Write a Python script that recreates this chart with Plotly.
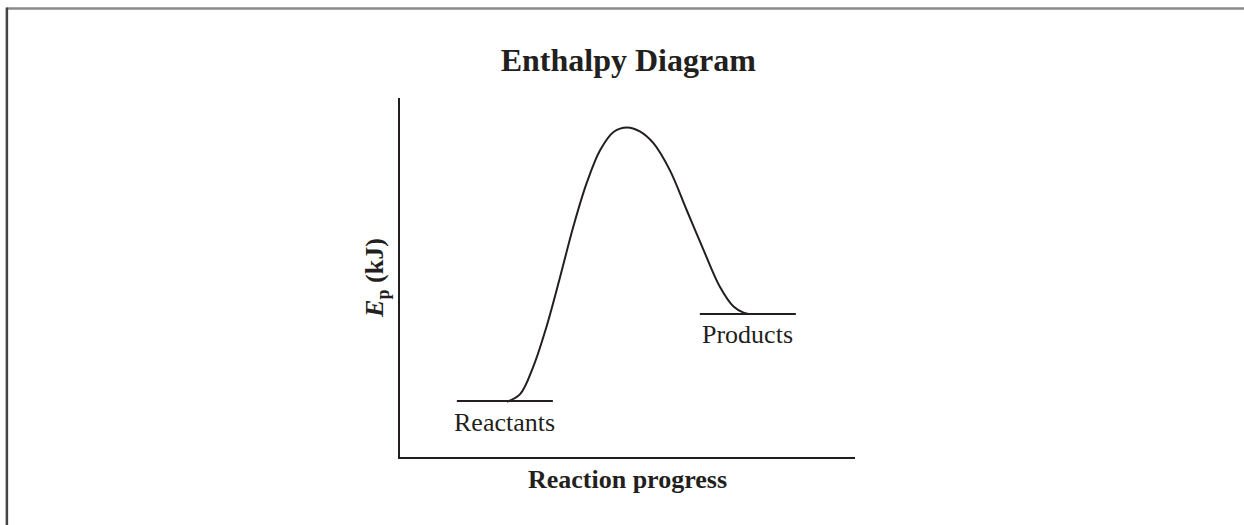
import plotly.graph_objects as go

# Data (arbitrary units: reaction progress 0-10, energy 0-10)
curve_x = [2.35, 2.64, 2.93, 3.22, 3.52, 3.81, 4.10, 4.40, 4.70, 4.99, 5.27, 5.57, 5.93, 6.30, 6.67, 7.03, 7.33, 7.55, 7.69]
curve_y = [1.54, 1.75, 2.52, 3.63, 5.02, 6.42, 7.62, 8.55, 9.06, 9.18, 9.07, 8.74, 7.99, 6.88, 5.77, 4.74, 4.19, 4.02, 3.98]
reactants_x = [1.25, 3.36]
reactants_y = [1.56, 1.56]
products_x = [6.59, 8.70]
products_y = [3.98, 3.98]
level_labels = ["Reactants", "Products"]

INK = "#231f20"
FONT = "Liberation Serif, Times New Roman, serif"

fig = go.Figure()
fig.add_trace(go.Scatter(x=curve_x, y=curve_y, mode="lines",
                         line=dict(color=INK, width=2, shape="spline", smoothing=1.0),
                         hoverinfo="skip", showlegend=False))
fig.add_trace(go.Scatter(x=reactants_x, y=reactants_y, mode="lines",
                         line=dict(color=INK, width=2), hoverinfo="skip", showlegend=False))
fig.add_trace(go.Scatter(x=products_x, y=products_y, mode="lines",
                         line=dict(color=INK, width=2), hoverinfo="skip", showlegend=False))

for name, xs, ys, shift in [(level_labels[0], reactants_x, reactants_y, -21),
                            (level_labels[1], products_x, products_y, -20)]:
    fig.add_annotation(x=sum(xs) / 2, y=ys[0], text=name, showarrow=False,
                       yshift=shift, font=dict(family=FONT, size=26, color=INK))

# page border (top and left)
fig.add_shape(type="line", xref="paper", yref="paper", x0=-0.864, x1=1.86, y0=1.249, y1=1.249,
              line=dict(color="#8a8a8a", width=2.5))
fig.add_shape(type="line", xref="paper", yref="paper", x0=-0.864, x1=-0.864, y0=1.252, y1=-0.2,
              line=dict(color="#444444", width=2.5))

fig.update_layout(
    width=1244, height=525,
    margin=dict(l=400, r=389, t=98, b=68),
    paper_bgcolor="white", plot_bgcolor="white",
    title=dict(text="<b>Enthalpy Diagram</b>", x=0.505, xanchor="center", y=1 - 60 / 525, yanchor="middle",
               font=dict(family=FONT, size=32, color=INK)),
    xaxis=dict(range=[0, 10], showgrid=False, zeroline=False, showticklabels=False, ticks="",
               showline=True, linecolor=INK, linewidth=1.5,
               title=dict(text="<b>Reaction progress</b>", standoff=12,
                          font=dict(family=FONT, size=26, color=INK))),
    yaxis=dict(range=[0, 10], showgrid=False, zeroline=False, showticklabels=False, ticks="",
               showline=True, linecolor=INK, linewidth=1.5,
               title=dict(text="<b><i>E</i><sub>p</sub> (kJ)</b>", standoff=7,
                          font=dict(family=FONT, size=26, color=INK))),
)

fig.write_html("out.html", config={"displayModeBar": False},
               post_script="document.body.style.margin='0';")
